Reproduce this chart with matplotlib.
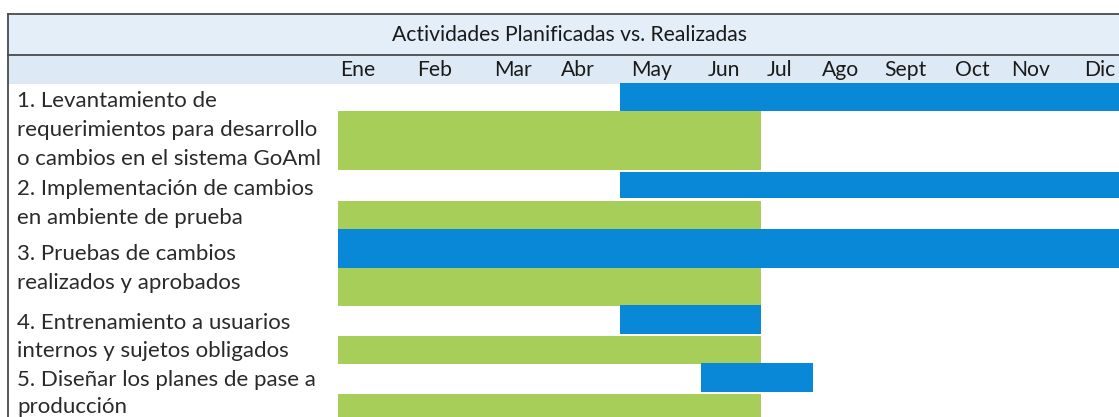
import matplotlib.pyplot as plt
from matplotlib.patches import Rectangle

# data
activities = [
    "1. Levantamiento de\nrequerimientos para desarrollo\no cambios en el sistema GoAml",
    "2. Implementación de cambios\nen ambiente de prueba",
    "3. Pruebas de cambios\nrealizados y aprobados",
    "4. Entrenamiento a usuarios\ninternos y sujetos obligados",
    "5. Diseñar los planes de pase a\nproducción",
]
months = ["Ene", "Feb", "Mar", "Abr", "May", "Jun", "Jul", "Ago", "Sept", "Oct", "Nov", "Dic"]
plan_start = [0, 0, 0, 0, 0]
plan_end = [6, 6, 6, 6, 6]
real_start = [4, 4, 0, 4, 5.15]
real_end = [12, 12, 12, 6, 6.74]

# layout (pixels, image is 1119 x 417)
W, H = 1119, 417
x0_px = 337.7          # start of Ene column
month_px = 70.55       # width of one month
real_top = [83, 172, 229, 305, 363]
real_bot = [111, 198, 268, 334, 392]
plan_top = [111, 201, 268, 336, 394]
plan_bot = [170, 229, 306, 364, 422]
label_y = [101, 189, 254, 323, 380]
line_gap = [29, 29, 29, 28, 27]
month_x = [358, 435, 513, 578, 652, 724, 780, 841, 905, 972, 1031, 1100]

green = "#a6ce58"
blue = "#0888d6"
band1 = "#e3eef9"
band2 = "#dde9f5"
line_c = "#4a4a4a"
font = ["Lato", "DejaVu Sans"]

fig = plt.figure(figsize=(W / 100, H / 100), dpi=100)
bg = fig.add_axes([0, 0, 1, 1])
bg.set_xlim(0, W)
bg.set_ylim(H, 0)
bg.axis("off")

# header bands and frame
bg.add_patch(Rectangle((8, 14), W - 8, 41, color=band1, lw=0))
bg.add_patch(Rectangle((8, 55), W - 8, 29, color=band2, lw=0))
bg.plot([8, W], [14, 14], color=line_c, lw=1.3)
bg.plot([8, W], [55, 55], color=line_c, lw=1.3)
bg.plot([8, 8], [14, H], color=line_c, lw=1.3)

bg.text(570, 35, "Actividades Planificadas vs. Realizadas", ha="center", va="center",
        fontsize=15.2, family=font, color="#1a1a1a")
for m, mx in zip(months, month_x):
    bg.text(mx, 70, m, ha="center", va="center", fontsize=15.2, family=font, color="#1a1a1a")

for lab, ly, gap in zip(activities, label_y, line_gap):
    for i, ln in enumerate(lab.split("\n")):
        bg.text(17, ly + i * gap, ln, ha="left", va="center", fontsize=16,
                family=font, color="#2a2a2a")

# gantt area
left = x0_px / W
ax = fig.add_axes([left, 0, 1 - left, 1])
ax.patch.set_alpha(0)
ax.set_xlim(0, (W - x0_px) / month_px)
ax.set_ylim(H, 0)
ax.axis("off")

for i in range(len(activities)):
    ph = plan_bot[i] - plan_top[i]
    rh = real_bot[i] - real_top[i]
    ax.barh(plan_top[i] + ph / 2, plan_end[i] - plan_start[i], left=plan_start[i],
            height=ph, color=green, lw=0)
    ax.barh(real_top[i] + rh / 2, real_end[i] - real_start[i], left=real_start[i],
            height=rh, color=blue, lw=0)

fig.savefig("out.png", dpi=100)
